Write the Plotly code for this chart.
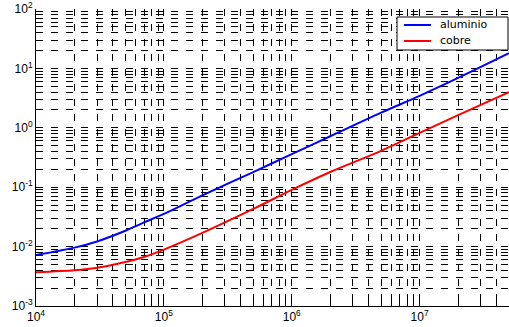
import numpy as np
import plotly.graph_objects as go

# Frequencies (Hz) and the two series
freq = [1e4, 2e4, 3e4, 5e4, 7e4, 1e5, 2e5, 5e5, 1e6, 2e6, 5e6, 1e7, 2e7, 5e7]
aluminio = [0.0072, 0.0096, 0.0122, 0.0185, 0.0255, 0.0355, 0.073, 0.18, 0.36, 0.72, 1.8, 3.45, 6.9, 18.0]
cobre = [0.0037, 0.0040, 0.0044, 0.0055, 0.0067, 0.0089, 0.0170, 0.043, 0.090, 0.180, 0.41, 0.82, 1.63, 4.0]

series_names = ["aluminio", "cobre"]
series_colors = ["#0000ff", "#ff0000"]

x_decades = [4, 5, 6, 7]
y_decades = [-3, -2, -1, 0, 1, 2]
x_max = 5e7

W, H = 509, 327
M = dict(l=36, r=0, t=9, b=21)
plot_w = W - M["l"] - M["r"]
plot_h = H - M["t"] - M["b"]


def px_to_paper(px, py):
    return (px - M["l"]) / plot_w, 1 - (py - M["t"]) / plot_h


def log_ticks(decades, upper=None):
    vals, text = [], []
    for d in decades:
        for m in range(1, 10):
            v = m * 10.0 ** d
            if upper is not None and v > upper * 1.0001:
                continue
            if d == decades[-1] and m > 1 and upper is None:
                continue
            vals.append(v)
            text.append(f"10<sup>{d}</sup>" if m == 1 else "")
    return vals, text


xv, xt = log_ticks(x_decades, upper=x_max)
yv, yt = log_ticks(y_decades)

fig = go.Figure()
for name, ys, col in zip(series_names, [aluminio, cobre], series_colors):
    fig.add_trace(go.Scatter(x=freq, y=ys, name=name, mode="lines", showlegend=False,
                             line=dict(color=col, width=2, shape="spline", smoothing=0.8)))

grid = dict(showgrid=True, gridcolor="#000000", gridwidth=1, griddash="7px,8px")
axis_common = dict(type="log", ticks="inside", ticklen=5, tickcolor="#000000",
                   showline=True, linecolor="#000000", linewidth=1, zeroline=False,
                   tickfont=dict(family="Liberation Sans, Arial", size=12, color="#000000"),
                   **grid)

fig.update_xaxes(range=[4, np.log10(x_max)], tickmode="array", tickvals=xv, ticktext=xt,
                 **axis_common)
fig.update_yaxes(range=[-3, 2], tickmode="array", tickvals=yv, ticktext=yt,
                 **axis_common)

# Boxed legend in the upper right corner
bx0, by0 = px_to_paper(397, 17)
bx1, by1 = px_to_paper(508, 50)
fig.add_shape(type="rect", xref="paper", yref="paper", x0=bx0, y0=by1, x1=bx1, y1=by0,
              line=dict(color="#000000", width=1), fillcolor="white", layer="above")
for i, (name, col) in enumerate(zip(series_names, series_colors)):
    row_y = 25 + 16 * i
    lx0, ly = px_to_paper(404, row_y)
    lx1, _ = px_to_paper(431, row_y)
    fig.add_shape(type="line", xref="paper", yref="paper", x0=lx0, y0=ly, x1=lx1, y1=ly,
                  line=dict(color=col, width=2), layer="above")
    tx, ty = px_to_paper(438, row_y)
    fig.add_annotation(xref="paper", yref="paper", x=tx, y=ty, text=name, showarrow=False,
                       xanchor="left", yanchor="middle",
                       font=dict(family="DejaVu Sans", size=11, color="#000000"))

fig.update_layout(
    width=W, height=H,
    margin=M,
    paper_bgcolor="white", plot_bgcolor="white",
    showlegend=False,
)

fig.write_html("out.html")
